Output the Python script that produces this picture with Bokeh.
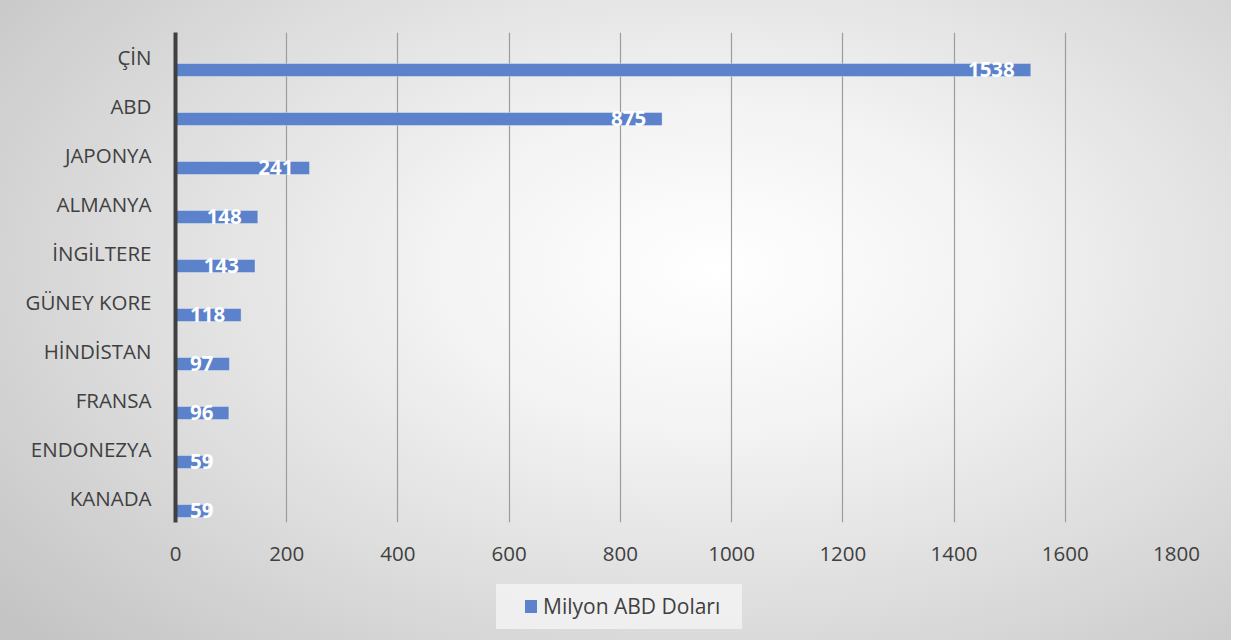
import numpy as np
from bokeh.plotting import figure
from bokeh.layouts import column
from bokeh.models import Range1d, FixedTicker, ColumnDataSource, Div
from bokeh.core.properties import value
from bokeh.embed import file_html
from bokeh.resources import INLINE

countries = ["ÇİN", "ABD", "JAPONYA", "ALMANYA", "İNGİLTERE", "GÜNEY KORE",
             "HİNDİSTAN", "FRANSA", "ENDONEZYA", "KANADA"]
values = [1538, 875, 241, 148, 143, 118, 97, 96, 59, 59]
series_name = "Milyon ABD Doları"
x_ticks = [0, 200, 400, 600, 800, 1000, 1200, 1400, 1600, 1800]

BAR_COLOR = "#5B82CA"
TEXT_COLOR = "#404040"

n = len(countries)
idx = np.arange(n)
slot_center = idx + 0.5
bar_center = slot_center + 0.265
label_min = 97  # labels are kept inside the plot near short bars
vals = np.array(values, dtype=float)

src = ColumnDataSource(dict(
    y=bar_center, v=vals, lx=np.maximum(vals, label_min),
    t=[str(v) for v in values]))

W, H = 1231, 640
PH = 574  # height of the plotting figure; legend strip below
FL, FR, FT, FB = 175, 1176, 32, 522
GRAD = "radial-gradient(ellipse 75% 85% at 58% 42%, #ffffff 0%, #f3f3f3 30%, #dcdcdc 65%, #c4c4c4 100%)"

p = figure(width=W, height=PH, output_backend="svg", toolbar_location=None,
           x_range=Range1d(0, 1800), y_range=Range1d(n, 0),
           min_border_left=FL, min_border_right=W - FR,
           min_border_top=FT, min_border_bottom=PH - FB)
p.styles = {"background-image": GRAD, "background-size": f"{W}px {H}px",
            "background-position": "0px 0px", "background-repeat": "no-repeat"}
p.background_fill_alpha = 0
p.border_fill_alpha = 0
p.outline_line_color = None

p.hbar(y="y", right="v", left=0, height=0.265, source=src,
       fill_color=BAR_COLOR, line_color="#ffffff", line_alpha=0.35, line_width=1)

p.text(x="lx", y="y", text="t", source=src, text_align="right",
       text_baseline="middle", x_offset=-16, text_color="white",
       text_font=value("Open Sans"), text_font_style="bold",
       text_font_size="20.5px")

# x axis
p.xaxis.ticker = FixedTicker(ticks=x_ticks)
p.xaxis.axis_line_color = None
p.xaxis.major_tick_line_color = None
p.xaxis.minor_tick_line_color = None
p.xaxis.major_label_standoff = 18
p.xaxis.major_label_text_font = "Open Sans"
p.xaxis.major_label_text_font_size = "20.5px"
p.xaxis.major_label_text_color = TEXT_COLOR

# y axis
p.yaxis.ticker = FixedTicker(ticks=list(slot_center))
p.yaxis.major_label_overrides = {float(c): name for c, name in zip(slot_center, countries)}
p.yaxis.axis_line_color = TEXT_COLOR
p.yaxis.axis_line_width = 4
p.yaxis.major_tick_line_color = None
p.yaxis.minor_tick_line_color = None
p.yaxis.major_label_standoff = 18
p.yaxis.major_label_text_font = "Open Sans"
p.yaxis.major_label_text_font_size = "20.5px"
p.yaxis.major_label_text_color = TEXT_COLOR

p.xgrid.ticker = FixedTicker(ticks=x_ticks)
p.xgrid.grid_line_color = "#9c9c9c"
p.xgrid.grid_line_width = 1.2
p.ygrid.grid_line_color = None

legend_html = (
    '<div style="margin-left:496px;margin-top:10px;width:246px;height:45px;'
    'background:rgba(246,246,246,0.75);display:flex;align-items:center;'
    'box-sizing:border-box;padding-left:29px;">'
    f'<span style="display:inline-block;width:12px;height:13px;background:{BAR_COLOR};'
    'margin-right:6px;"></span>'
    f'<span style="font-family:\'Open Sans\';font-size:21px;color:{TEXT_COLOR};'
    f'line-height:1;white-space:nowrap;">{series_name}</span></div>'
)
leg = Div(text=legend_html, width=W, height=H - PH, margin=0,
          styles={"background-image": GRAD, "background-size": f"{W}px {H}px",
                  "background-position": f"0px -{PH}px", "background-repeat": "no-repeat"})

layout = column(p, leg, spacing=0)
open("out.html", "w").write(file_html(layout, INLINE))
